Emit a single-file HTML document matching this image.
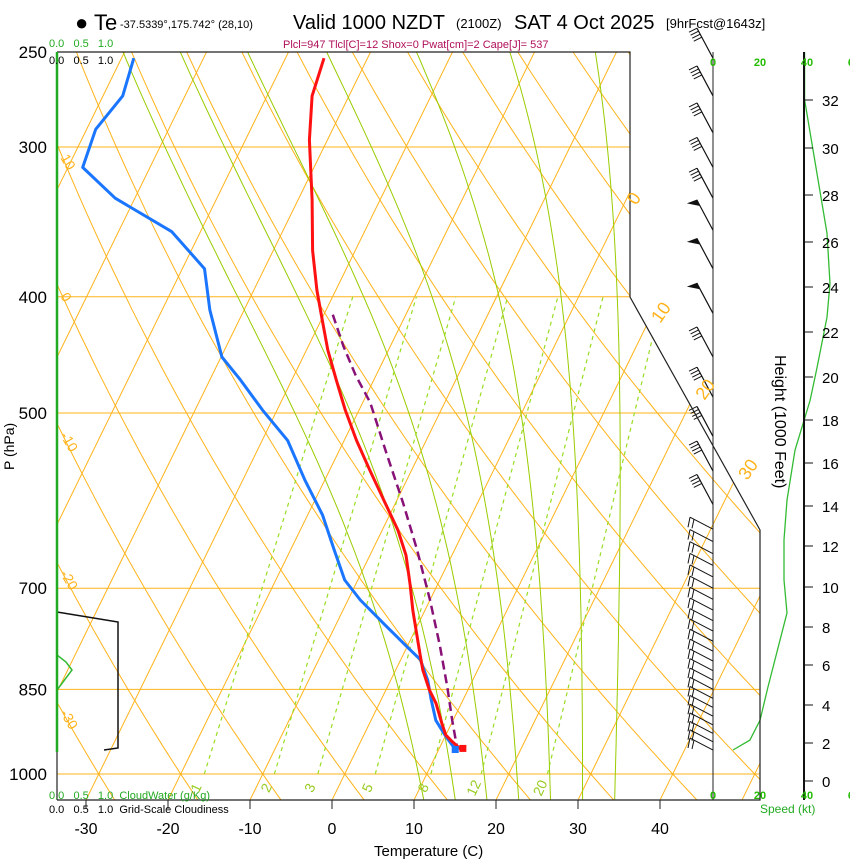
<!DOCTYPE html>
<html><head><meta charset="utf-8">
<style>
html,body{margin:0;padding:0;background:#fff;}
svg{display:block;font-family:"Liberation Sans",Arial,sans-serif;}
</style></head>
<body>
<svg id="chart" width="850" height="860" viewBox="0 0 850 860" xmlns="http://www.w3.org/2000/svg">
<defs>
<clipPath id="plotClip"><polygon points="57,52 630,52 630,297 760,530 760,800 57,800"/></clipPath>
</defs>
<g id="grid" clip-path="url(#plotClip)"></g>
<g id="series"></g>
<g id="frame">
<polyline points="57,52 630,52 630,297 760,530 760,800 57,800" fill="none" stroke="#222" stroke-width="1.2"/>
<line x1="57" y1="52" x2="57" y2="752" stroke="#22aa22" stroke-width="2.5"/>
<line x1="57" y1="752" x2="57" y2="800" stroke="#222" stroke-width="1.2"/>
<line x1="713" y1="52" x2="713" y2="800" stroke="#222" stroke-width="1"/>
<line x1="804" y1="52" x2="804" y2="800" stroke="#111" stroke-width="2"/>
</g>
<g id="texts">
<text x="75" y="30" font-size="22">● Te</text>
<text x="120" y="28" font-size="11">-37.5339°,175.742° (28,10)</text>
<text x="293" y="29" font-size="20">Valid 1000 NZDT</text>
<text x="456" y="28" font-size="13">(2100Z)</text>
<text x="514" y="29" font-size="20">SAT 4 Oct 2025</text>
<text x="666" y="28" font-size="13">[9hrFcst@1643z]</text>
<text x="283" y="48" font-size="11" fill="#b0105a">Plcl=947 Tlcl[C]=12 Shox=0 Pwat[cm]=2 Cape[J]= 537</text>
<text x="49" y="47" font-size="11" fill="#22aa22">0.0&#160;&#160;&#160;0.5&#160;&#160;&#160;1.0</text>
<text x="49" y="64" font-size="11" fill="#000">0.0&#160;&#160;&#160;0.5&#160;&#160;&#160;1.0</text>
<text x="49" y="799" font-size="11" fill="#22aa22">0.0&#160;&#160;&#160;0.5&#160;&#160;&#160;1.0&#160;&#160;CloudWater (g/Kg)</text>
<text x="49" y="813" font-size="11" fill="#000">0.0&#160;&#160;&#160;0.5&#160;&#160;&#160;1.0&#160;&#160;Grid-Scale Cloudiness</text>
<text x="374" y="856" font-size="15">Temperature (C)</text>
<text transform="translate(14,470) rotate(-90)" font-size="14">P (hPa)</text>
<text transform="translate(775,355) rotate(90)" font-size="16">Height (1000 Feet)</text>
<text x="760" y="813" font-size="12" fill="#22aa22">Speed (kt)</text>
</g>
</svg>
<script>
// ---------- data ----------
const tempP = [253,272,296,332,366,395,418,443,469,497,527,558,591,626,657,696,730,766,796,819,851,873,907,928,940,953];
const tempC = [-45.3,-44.5,-42.2,-38.3,-35.2,-32.3,-29.9,-27.4,-24.6,-21.7,-18.5,-15.1,-11.6,-8.1,-5.6,-3.3,-1.5,0.5,2.1,3.3,5.3,6.9,8.8,10.0,11.2,12.6];
const dewP = [253,272,290,312,331,353,379,410,449,469,497,527,569,608,650,689,716,751,785,803,835,867,902,928,955];
const dewC = [-68.5,-67.6,-68.9,-68.2,-62.4,-53.5,-47.3,-44.2,-39.9,-36.3,-31.8,-26.9,-22.4,-18.2,-14.7,-11.6,-8.5,-4.0,0.2,2.4,4.5,6.1,7.9,9.9,12.1];
const parcelP = [414,440,465,490,540,594,650,716,781,846,902,950];
const parcelC = [-28.9,-25.7,-22.5,-19.1,-14.1,-9.1,-4.6,0.0,3.9,7.3,9.9,12.1];
const pressureTicks = [250,300,400,500,700,850,1000];
const tempTicks = [-30,-20,-10,0,10,20,30,40];
const mixRatios = [1,2,3,5,8,12,20];
const moistThetaW = [9,13,17,21,25,29,33];
const dryThetaLabels = [10,0,-10,-20,-30];
const isoLabels = [0,10,20,30];
const speedP = [250,274,302,354,390,416,458,488,537,591,638,689,734,846,902,937,955];
const speedKt = [39,39,42.6,48.5,49.8,48.5,44.3,41.3,34.9,31.5,30.2,30.2,31.5,23.4,20,15.7,8.5];
const heightLabels = [0,2,4,6,8,10,12,14,16,18,20,22,24,26,28,30,32];
const heightLabelY = [781,743,705,665,627,587,546,506,463,420,377,332,287,242,195,148,100];
const barbUpperP = [253,272,292,312,331,352,379,413,449,485,523,559,596];
const barbUpperFlag = [0,0,0,0,0,1,1,1,0,0,0,0,0];
const barbLowerP = [625,640,655,670,685,700,715,730,745,760,775,790,805,820,835,850,865,880,895,910,925,940,955];
const speedTicks = [0,20,40,60];

// ---------- axes ----------
const NS="http://www.w3.org/2000/svg";
function yP(p){return 774-520.8*Math.log(1000/p);}
function xT(T,p){return 332+8.2*T+0.49*(800-yP(p));}
function xSpeed(k){return 713+2.35*k;}
function mk(tag,attrs,parent){const e=document.createElementNS(NS,tag);for(const k in attrs)e.setAttribute(k,attrs[k]);parent.appendChild(e);return e;}
const grid=document.getElementById('grid');
const series=document.getElementById('series');
const texts=document.getElementById('texts');
const ORANGE="#ffb31a";

pressureTicks.forEach(p=>{
  const y=yP(p);
  if(p!==250){
    const l=mk('line',{x1:57,y1:y,x2:760,y2:y,stroke:ORANGE,'stroke-width':1},grid);
    
    
  }
  const t=mk('text',{x:47,y:y+6,'font-size':17,'text-anchor':'end'},texts);
  t.textContent=p;
  
  
});
for(let T=-120;T<=50;T+=10){
  const l=mk('line',{x1:xT(T,1050),y1:yP(1050),x2:xT(T,200),y2:yP(200),stroke:ORANGE,'stroke-width':1},grid);
  
  
}
for(let th=-40;th<=200;th+=10){
  let pts=[];
  for(let p=1060;p>=200;p-=10){const T=(th+273.15)*Math.pow(p/1000,0.2857)-273.15;pts.push(xT(T,p).toFixed(1)+','+yP(p).toFixed(1));}
  const l=mk('polyline',{points:pts.join(' '),fill:'none',stroke:ORANGE,'stroke-width':1},grid);
  
  
}
function es(T){return 6.112*Math.exp(17.67*T/(T+243.5));}
function dTdlnp(T,p){const Tk=T+273.15;const e=es(T);const rs=0.622*e/(p-e);return (287*Tk+2.5e6*rs)/(1004+2.5e6*2.5e6*rs*0.622/(287*Tk*Tk));}
moistThetaW.forEach(tw=>{
  let lnp=Math.log(1000);
  let Td=tw;
  const dd=Math.log(1050/1000)/10;
  for(let i=0;i<10;i++){Td+=dTdlnp(Td,Math.exp(lnp))*dd;lnp+=dd;}
  let pts=[xT(Td,1050).toFixed(1)+','+yP(1050).toFixed(1)];
  lnp=Math.log(1000);let T=tw;pts.push(xT(T,1000).toFixed(1)+','+yP(1000).toFixed(1));
  const n=200,d=(Math.log(240)-Math.log(1000))/n;
  for(let i=0;i<n;i++){const pp=Math.exp(lnp);const k1=dTdlnp(T,pp);const k2=dTdlnp(T+k1*d,Math.exp(lnp+d));T+=0.5*(k1+k2)*d;lnp+=d;if(i%4===3)pts.push(xT(T,Math.exp(lnp)).toFixed(1)+','+yP(Math.exp(lnp)).toFixed(1));}
  const l=mk('polyline',{points:pts.join(' '),fill:'none',stroke:'#99cc00','stroke-width':1},grid);
  
  
});
function tdFromW(w,p){const e=w*p/(622+w);const l=Math.log(e/6.112);return 243.5*l/(17.67-l);}
mixRatios.forEach(w=>{
  const l=mk('line',{x1:xT(tdFromW(w,1000),1000),y1:yP(1000),x2:xT(tdFromW(w,400),400),y2:yP(400),stroke:'#99dd22','stroke-width':1.2,'stroke-dasharray':'4,4'},grid);
  
  
  const x=xT(tdFromW(w,1025),1025),y=yP(1025)+3;
  const t=mk('text',{x:x,y:y,'font-size':14,fill:'#99cc22','text-anchor':'middle',transform:'rotate(-65 '+x+' '+y+')'},texts);
  t.textContent=w;
  
  
});
dryThetaLabels.forEach(th=>{
  let best=null;
  for(let p=1050;p>=250;p-=1){const T=(th+273.15)*Math.pow(p/1000,0.2857)-273.15;if(xT(T,p)<=62){best=p;break;}}
  if(!best)return;
  const y=yP(best)+2;
  const t=mk('text',{x:60,y:y,'font-size':14,fill:ORANGE,transform:'rotate(60 60 '+y+')'},texts);
  t.textContent=th;
  
  
});
const isoLabelY=[200,318,395,475];
isoLabels.forEach((T,i)=>{
  const yy=isoLabelY[i];
  const p=1000*Math.exp(-(774-yy)/520.8);
  const x=xT(T,p)+10;
  const t=mk('text',{x:x,y:yy+6,'font-size':18,fill:ORANGE,transform:'rotate(-55 '+x+' '+(yy+6)+')'},texts);
  t.textContent=T;
  
  
});
tempTicks.forEach(T=>{
  const x=332+8.2*T;
  const l=mk('line',{x1:x,y1:800,x2:x,y2:809,stroke:'#222','stroke-width':1},texts);
  
  
  const t=mk('text',{x:x,y:834,'font-size':16,'text-anchor':'middle'},texts);
  t.textContent=T;
  
  
});
speedTicks.forEach(k=>{
  [66,799].forEach(y=>{
    const t=mk('text',{x:xSpeed(k),y:y,'font-size':11,'font-weight':'bold',fill:'#22bb00','text-anchor':'middle'},texts);
    t.textContent=k;
    
    
  });
});
heightLabels.forEach((h,i)=>{
  const y=heightLabelY[i];
  const l=mk('line',{x1:804,y1:y,x2:813,y2:y,stroke:'#111','stroke-width':1},texts);
  
  
  const t=mk('text',{x:822,y:y+6,'font-size':15},texts);
  t.textContent=h;
  
  
});
function line(P,C,attrs,name){
  const pts=P.map((p,i)=>xT(C[i],p).toFixed(1)+','+yP(p).toFixed(1)).join(' ');
  const l=mk('polyline',Object.assign({points:pts,fill:'none','stroke-linejoin':'round'},attrs),series);
  
  
}
line(parcelP,parcelC,{stroke:'#881177','stroke-width':2.5,'stroke-dasharray':'9,5'},'parcel-trace');
line(dewP,dewC,{stroke:'#1a75ff','stroke-width':3},'dewpoint-line');
line(tempP,tempC,{stroke:'#ff1111','stroke-width':3},'temperature-line');
{
  const r=mk('rect',{x:xT(tempC[tempC.length-1],tempP[tempP.length-1])-1,y:yP(tempP[tempP.length-1])-4,width:7,height:7,fill:'#ff1111'},series);
  
  
  const b=mk('rect',{x:xT(dewC[dewC.length-1],dewP[dewP.length-1])-4,y:yP(dewP[dewP.length-1])-4,width:7,height:7,fill:'#1a75ff'},series);
  
  
}
{
  const pts=speedP.map((p,i)=>xSpeed(speedKt[i]).toFixed(1)+','+yP(p).toFixed(1)).join(' ');
  const l=mk('polyline',{points:pts,fill:'none',stroke:'#33bb33','stroke-width':1.3},series);
  
  
}
{
  const cw=mk('polyline',{points:'57,655 66,662 72,670 66,678 57,690',fill:'none',stroke:'#33bb33','stroke-width':1.5},series);
  
  
  const cl=mk('polyline',{points:'57,612 118,622 118,748 104,750',fill:'none',stroke:'#111','stroke-width':1.5},series);
  
  
}
barbUpperP.forEach((p,i)=>{
  const y=yP(p);
  const g=mk('g',{stroke:'#111','stroke-width':1.2,fill:'#111'},series);
  
  
  const tx=697,ty=y-30;
  mk('line',{x1:713,y1:y,x2:tx,y2:ty},g);
  if(barbUpperFlag[i]){
    mk('polygon',{points:tx+','+ty+' '+(tx-8)+','+(ty+3)+' '+(tx+2)+','+(ty+5)},g);
  } else {
    for(let k=0;k<4;k++){const bx=tx+k*1.6,by=ty+k*3;mk('line',{x1:bx,y1:by,x2:bx-8,y2:by+4,'stroke-width':1},g);}
  }
});
barbLowerP.forEach(p=>{
  const y=yP(p);
  const g=mk('g',{stroke:'#111','stroke-width':1},series);
  
  
  mk('line',{x1:713,y1:y,x2:690,y2:y-12},g);
  mk('line',{x1:690,y1:y-12,x2:688,y2:y-2},g);
  mk('line',{x1:694,y1:y-10,x2:692,y2:y-1},g);
});
</script>
</body></html>
